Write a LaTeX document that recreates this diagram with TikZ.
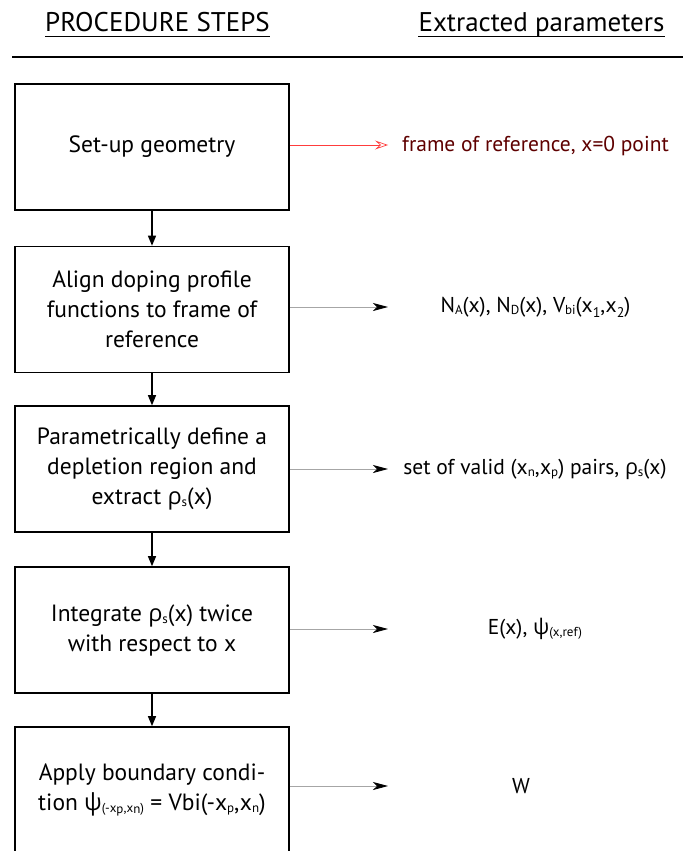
\documentclass[tikz,border=0pt]{standalone}
\usepackage{fontspec}
\setmainfont{PT Sans}
\newfontfamily\gk{Open Sans}
\newfontfamily\hd{PT Sans}
\usetikzlibrary{arrows.meta}
\newcommand\sbs[1]{\raisebox{-0.2ex}{\fontsize{13}{13}\selectfont #1}}
\newcommand\sbd[1]{\raisebox{-0.45ex}{\fontsize{14}{14}\selectfont #1}}
\definecolor{darkred}{RGB}{95,0,0}
\definecolor{lightred}{RGB}{255,60,60}
\begin{document}
\begin{tikzpicture}[x=1pt,y=-1pt,
  stepbox/.style={draw=black,line width=1.6pt,minimum width=274pt,minimum height=126pt,
    align=center,inner sep=0pt,font=\fontsize{23.5}{30}\selectfont},
  downarrow/.style={line width=1.3pt,-{Triangle[length=10pt,width=8pt]}},
  sidearrow/.style={draw=gray!70,line width=0.8pt,-{Stealth[length=15pt,width=8pt,inset=4pt,fill=black,color=black]}},
  param/.style={font=\fontsize{21.5}{24}\selectfont,inner sep=0pt},
  heading/.style={font=\hd\fontsize{27}{30}\selectfont,inner sep=0pt}]
\useasboundingbox (0,0) rectangle (683,851);
\clip (0,0) rectangle (683,851);
\fill[white] (0,0) rectangle (683,851);

% headings
\node[heading,anchor=base] (h1) at (157.5,32) {PROCEDURE STEPS};
\node[heading,anchor=base] (h2) at (541.5,32) {Extracted parameters};
\draw[line width=1pt] ([yshift=-5pt]h1.base west) -- ([yshift=-5pt]h1.base east);
\draw[line width=1pt] ([yshift=-5pt]h2.base west) -- ([yshift=-5pt]h2.base east);
\coordinate (r1) at (12,57);
\coordinate (r2) at (683,57);
\draw[line width=1.4pt] (r1) -- (r2);

% boxes
\node[stepbox] (b1) at (152,147) {Set-up geometry};
\node[stepbox] (b2) at (152,309.5) {Align doping profile\\functions to frame of\\reference};
\node[stepbox] (b3) at (152,469) {Parametrically define a\\depletion region and\\extract {\gk ρ}\sbs{s}(x)};
\node[stepbox] (b4) at (152,630) {Integrate {\gk ρ}\sbs{s}(x) twice\\with respect to x};
\node[stepbox] (b5) at (152,790) {Apply boundary condi-\\tion {\gk ψ}\sbs{(-x\sbs{p},x\sbs{n})} = Vbi(-x\sbs{p},x\sbs{n})};

\draw[downarrow] (b1) -- (b2);
\draw[downarrow] (b2) -- (b3);
\draw[downarrow] (b3) -- (b4);
\draw[downarrow] (b4) -- (b5);

% parameters
\node[param,text=darkred] (p1) at (535.5,146) {frame of reference, x=0 point};
\node[param] (p2) at (535.5,307) {N\sbs{A}(x), N\sbs{D}(x), V\sbs{bi}(x\sbd{1},x\sbd{2})};
\node[param] (p3) at (535,469) {set of valid (x\sbs{n},x\sbs{p}) pairs, {\gk ρ}\sbs{s}(x)};
\node[param] (p4) at (535,629) {E(x), {\gk ψ}\sbs{(x,ref)}};
\node[param] (p5) at (521,786) {W};

\coordinate (e1) at (388,145);
\coordinate (e2) at (388,307);
\coordinate (e3) at (388,469);
\coordinate (e4) at (388,629);
\coordinate (e5) at (388,786);
\draw[draw=lightred,line width=0.7pt,-{Stealth[open,length=13pt,width=9pt,inset=5pt]}] (b1.east |- e1) -- (e1);
\draw[sidearrow] (b2.east |- e2) -- (e2);
\draw[sidearrow] (b3.east |- e3) -- (e3);
\draw[sidearrow] (b4.east |- e4) -- (e4);
\draw[sidearrow] (b5.east |- e5) -- (e5);
\end{tikzpicture}
\end{document}
